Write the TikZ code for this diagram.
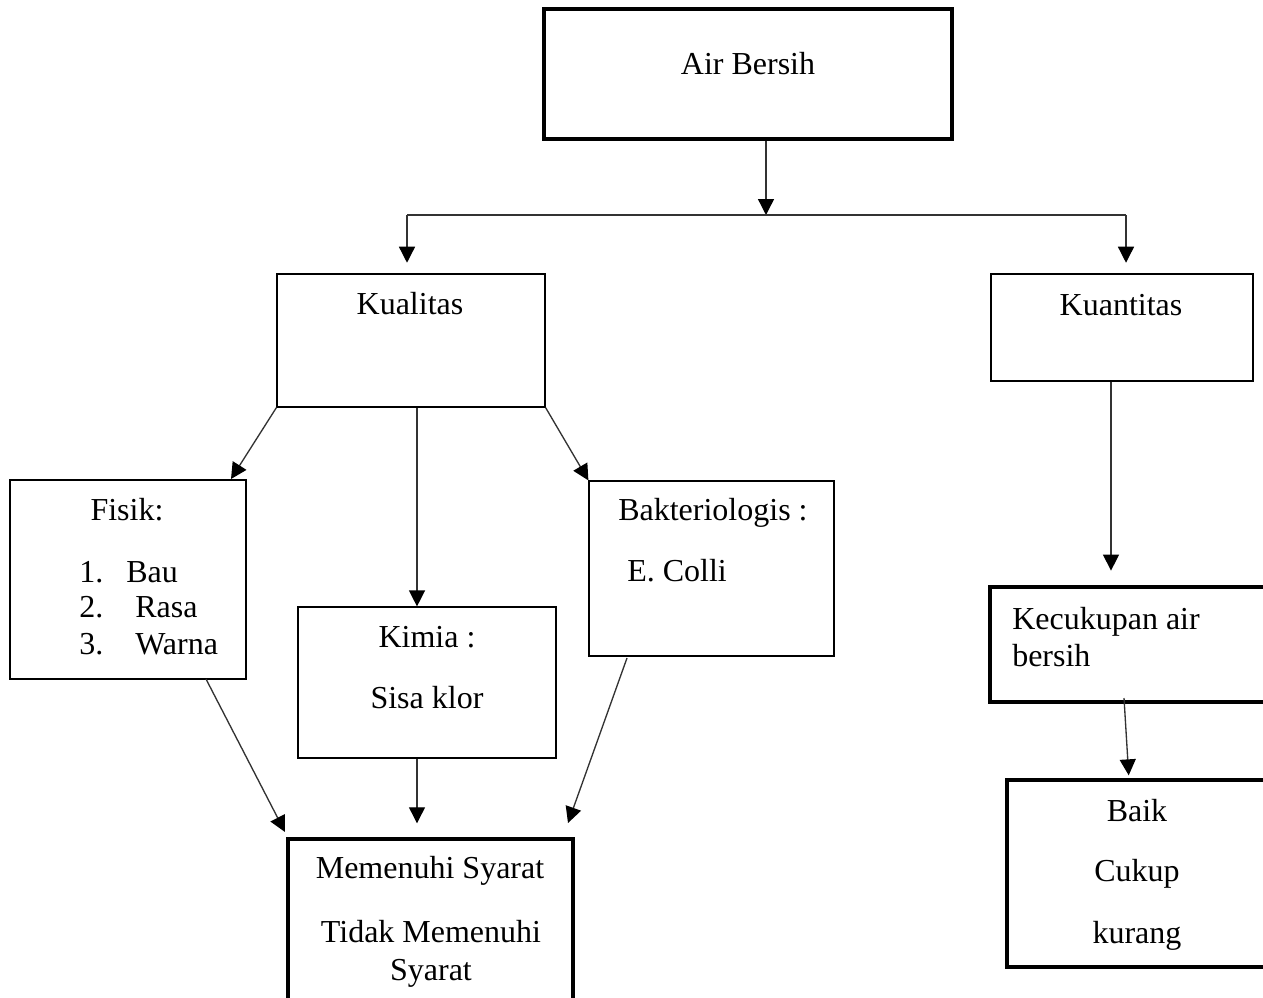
\documentclass[tikz,border=0pt]{standalone}
\usepackage{fontspec}
\setmainfont{Liberation Serif}
\usetikzlibrary{fit,arrows.meta,calc}
\begin{document}
\begin{tikzpicture}[x=0.75pt,y=-0.75pt,
  thinbox/.style={draw=black,line width=0.9pt,inner sep=0pt,rectangle},
  thickbox/.style={draw=black,line width=2.6pt,inner sep=0pt,rectangle},
  conn/.style={draw=black!80,line width=1pt},
  arr/.style={conn,-{Triangle[length=12pt,width=12pt,color=black]}},
  txt/.style={font=\fontsize{24}{28}\selectfont,inner sep=0pt,anchor=base},
  txtl/.style={txt,anchor=base west}]
\useasboundingbox (0,0) rectangle (1263,997);
\clip (0,0) rectangle (1263,997);
% boxes
\node[thickbox,fit={(544,9) (952,139)}] (air) {};
\node[thinbox,fit={(277,274) (545,407)}] (kual) {};
\node[thinbox,fit={(991,274) (1253,381)}] (kuant) {};
\node[thinbox,fit={(10,480) (246,679)}] (fisik) {};
\node[thinbox,fit={(298,607) (556,758)}] (kimia) {};
\node[thinbox,fit={(589,481) (834,656)}] (bakt) {};
\node[thickbox,fit={(288,839) (573,1010)}] (mem) {};
\node[thickbox,fit={(990,587) (1280,702)}] (kec) {};
\node[thickbox,fit={(1007,780) (1280,967)}] (baik) {};
% texts
\node[txt] (tair) at (748,74) {Air Bersih};
\node[txt] (tkual) at (410,314) {Kualitas};
\node[txt] (tkuant) at (1121,315) {Kuantitas};
\node[txt] (tfisik) at (127,520) {Fisik:};
\node[txtl] (n1) at (79,582) {1.};
\node[txtl] (l1) at (126,582) {Bau};
\node[txtl] (n2) at (79,617) {2.};
\node[txtl] (l2) at (135,617) {Rasa};
\node[txtl] (n3) at (79,654) {3.};
\node[txtl] (l3) at (135,654) {Warna};
\node[txt] (tkimia) at (427,647) {Kimia :};
\node[txt] (tsisa) at (427,708) {Sisa klor};
\node[txtl] (tbakt) at (618,520) {Bakteriologis :};
\node[txtl] (tecoli) at (627,581) {E. Colli};
\node[txt] (tmem1) at (430,878) {Memenuhi Syarat};
\node[txt] (tmem2) at (431,942) {Tidak Memenuhi};
\node[txt] (tmem3) at (431,980) {Syarat};
\node[txtl] (tkec1) at (1012,629) {Kecukupan air};
\node[txtl] (tkec2) at (1012,666) {bersih};
\node[txt] (tbaik) at (1137,821) {Baik};
\node[txt] (tcukup) at (1137,881) {Cukup};
\node[txt] (tkurang) at (1137,943) {kurang};
% junction coordinates
\coordinate (jn) at (766,215);
\coordinate (jl) at (407,215);
\coordinate (jr) at (1126,215);
\coordinate (fisikin) at (231,479);
\coordinate (xk) at (417,0);
\coordinate (fisout) at (206,679);
\coordinate (memin1) at (285,832);
\coordinate (baktout) at (627,658);
\coordinate (memin3) at (568,823);
\coordinate (xq) at (1111,0);
\coordinate (kecout) at (1124,698);
\coordinate (baikin) at (1129,780);
% connectors
\draw[arr] (air.south -| jn) -- (jn);
\draw[conn] (jl) -- (jr);
\draw[arr,shorten >=8pt] (jl) -- (jl |- kual.north);
\draw[arr,shorten >=8pt] (jr) -- (jr |- kuant.north);
\draw[arr] (kual.south west) -- (fisikin);
\draw[arr] (kual.south -| xk) -- (kimia.north -| xk);
\draw[arr] (kual.south east) -- (bakt.north west);
\draw[arr] (fisout) -- (memin1);
\draw[arr,shorten >=10.5pt] (kimia.south -| xk) -- (mem.north -| xk);
\draw[arr] (baktout) -- (memin3);
\draw[arr,shorten >=11pt] (kuant.south -| xq) -- (kec.north -| xq);
\draw[arr,shorten >=3.5pt] (kecout) -- (baikin);
\end{tikzpicture}
\end{document}
